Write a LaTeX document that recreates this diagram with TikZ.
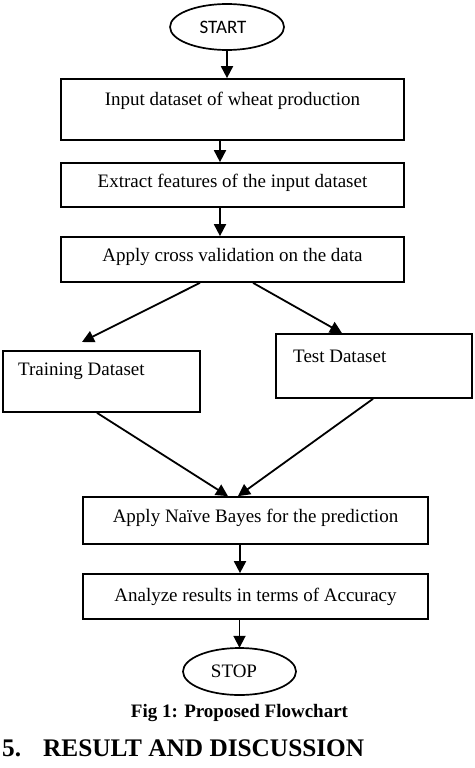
\documentclass[tikz,border=0pt]{standalone}
\usepackage{fontspec}
\setmainfont{Liberation Serif}
\newfontfamily\calfont{Carlito}
\usetikzlibrary{arrows.meta,shapes.geometric}
\begin{document}
\begin{tikzpicture}[x=1pt,y=-1pt,
 boxnode/.style={draw,line width=1.7pt,rectangle,inner sep=0pt},
 ovalframe/.style={line width=1.7pt},
 txt/.style={font=\fontsize{19}{22}\selectfont,inner sep=0pt},
 arr/.style={line width=1.8pt,-{Triangle[length=12pt,width=12pt]}}]
\useasboundingbox (0,0) rectangle (474,768);
\fill[white] (0,0) rectangle (474,768);

% start / stop
\node[inner sep=0pt,minimum width=114pt,minimum height=46pt] (start) at (227,27) {};
\draw[ovalframe] (start.center) ellipse [x radius=57pt, y radius=23pt];
\node[txt,font=\calfont\fontsize{19}{22}\selectfont] (startt) at (223,27) {START};
\node[inner sep=0pt,minimum width=113pt,minimum height=47pt] (stop) at (239.5,671.5) {};
\draw[ovalframe] (stop.center) ellipse [x radius=56.5pt, y radius=23.5pt];
\node[txt] (stopt) at (234,671.5) {STOP};

% boxes
\node[boxnode,minimum width=343pt,minimum height=61pt] (b1) at (232.5,109.5) {};
\node[txt] (b1t) at (232.5,101) {Input dataset of wheat production};
\node[boxnode,minimum width=343pt,minimum height=44pt] (b2) at (232.5,185) {};
\node[txt] (b2t) at (232.5,183) {Extract features of the input dataset};
\node[boxnode,minimum width=343pt,minimum height=45pt] (b3) at (232.5,259.5) {};
\node[txt] (b3t) at (232.5,257) {Apply cross validation on the data};

\node[boxnode,minimum width=197pt,minimum height=61pt] (train) at (101.5,381.5) {};
\node[txt,anchor=west] (traint) at (18,371) {Training Dataset};
\node[boxnode,minimum width=196pt,minimum height=64pt] (test) at (374,366) {};
\node[txt,anchor=west] (testt) at (293,356) {Test Dataset};

\node[boxnode,minimum width=345pt,minimum height=47pt] (naive) at (255.5,520.5) {};
\node[txt] (naivet) at (255.5,518) {Apply Na\"ive Bayes for the prediction};
\node[boxnode,minimum width=345pt,minimum height=45pt] (anal) at (255.5,596.5) {};
\node[txt] (analt) at (255.5,597) {Analyze results in terms of Accuracy};

\coordinate (trtip) at (82,342);

% connectors
\draw[arr] (start.south) -- (start.south |- b1.north);
\draw[arr] ([xshift=-12.5pt]b1.south) -- ([xshift=-12.5pt]b2.north);
\draw[arr] ([xshift=-12.5pt]b2.south) -- ([xshift=-12.5pt]b3.north);
\draw[arr] ([xshift=-32.5pt]b3.south) -- (trtip);
\draw[arr] ([xshift=20.5pt]b3.south) -- ([xshift=-32pt]test.north);
\draw[arr] ([xshift=-4.5pt]train.south) -- ([xshift=-27.5pt]naive.north);
\draw[arr] ([xshift=-1pt]test.south) -- ([xshift=-17.5pt]naive.north);
\draw[arr] ([xshift=-15.5pt]naive.south) -- ([xshift=-15.5pt]anal.north);
\draw[arr] (stop.north |- anal.south) -- (stop.north);

% caption and heading
\node[font=\bfseries\fontsize{19}{22}\selectfont,anchor=base,inner sep=0pt] (cap) at (239.5,717) {Fig 1: Proposed Flowchart};
\node[font=\bfseries\fontsize{25.3}{28}\selectfont,anchor=base west,inner sep=0pt] (h5) at (2,756) {5.};
\node[font=\bfseries\fontsize{25.3}{28}\selectfont,anchor=base west,inner sep=0pt] (hd) at (43,756) {RESULT AND DISCUSSION};
\end{tikzpicture}
\end{document}
